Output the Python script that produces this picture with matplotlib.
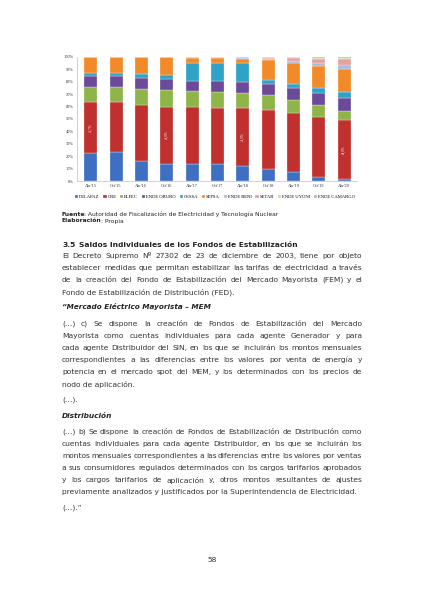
import numpy as np
import matplotlib
matplotlib.use("Agg")
import matplotlib.pyplot as plt

# datos del grafico (participacion %)
periodos = ["Abr'15", "Oct'15", "Abr'16", "Oct'16", "Abr'17", "Oct'17",
            "Abr'18", "Oct'18", "Abr'19", "Oct'19", "Abr'20"]
empresas = ["DELAPAZ", "CRE", "ELFEC", "ENDE ORURO", "CESSA", "SEPSA",
            "ENDE BENI", "SETAR", "ENDE UYUNI", "ENDE CAMARGO"]
delapaz = [22.3, 23.0, 16.5, 14.0, 13.5, 13.5, 12.5, 10.0, 7.0, 3.5, 1.5]
cre = [41.7, 41.0, 44.5, 46.0, 46.0, 45.5, 46.0, 47.5, 48.0, 48.5, 48.0]
elfec = [12.0, 12.0, 13.5, 13.0, 13.0, 13.0, 12.5, 11.5, 10.0, 9.0, 7.0]
oruro = [8.7, 8.5, 8.5, 9.0, 8.5, 9.0, 9.0, 9.0, 10.0, 10.0, 10.5]
cessa = [2.7, 3.0, 3.5, 3.5, 14.5, 14.5, 15.0, 3.5, 3.5, 4.0, 4.5]
sepsa = [12.6, 12.5, 13.5, 14.5, 4.0, 3.5, 3.5, 16.0, 17.0, 18.0, 19.0]
beni = [0, 0, 0, 0, 0.5, 0.6, 1.0, 1.0, 1.5, 2.0, 3.0]
setar = [0, 0, 0, 0, 0, 0.4, 0.5, 1.0, 2.0, 3.5, 5.0]
uyuni = [0, 0, 0, 0, 0, 0, 0, 0.5, 0.7, 1.0, 1.0]
camargo = [0, 0, 0, 0, 0, 0, 0, 0, 0.3, 0.5, 0.5]
con_etiqueta = [0, 3, 6, 10]

series = [delapaz, cre, elfec, oruro, cessa, sepsa, beni, setar, uyuni, camargo]
colores = ["#3f6fc1", "#c0302e", "#8fb548", "#6b4a99", "#2ea3c5", "#f28a2a",
           "#a6bddf", "#e6a0a0", "#c7dba4", "#b9a8d1"]

fig = plt.figure(figsize=(4.24, 6.0), dpi=100)

# --- grafico de barras apiladas ---
ax = fig.add_axes([76.7/424, 1-181/600, (357-76.7)/424, 124/600])
x = np.arange(len(periodos))
base = np.zeros(len(periodos))
for nombre, vals, c in zip(empresas, series, colores):
    v = np.array(vals)
    ax.bar(x, v, 0.51, bottom=base, color=c, label=nombre,
           edgecolor="white", linewidth=0.2)
    base = base + v

for i in con_etiqueta:
    ax.text(x[i], delapaz[i] + cre[i]/2, f"{cre[i]:.1f}%".replace(".", ","),
            rotation=90, ha="center", va="center", color="white",
            fontsize=2.3, family="Liberation Serif")

ax.set_xlim(-0.553, 10.51)
ax.set_ylim(0, 100)
ax.set_yticks(np.arange(0, 101, 10))
ax.set_yticklabels([f"{t}%" for t in range(0, 101, 10)])
ax.set_xticks(x)
ax.set_xticklabels(periodos)
ax.tick_params(length=0, labelsize=3.2, colors="#333333", pad=2)
for lab in ax.get_xticklabels() + ax.get_yticklabels():
    lab.set_family("Liberation Serif")
for s in ["top", "right"]:
    ax.spines[s].set_visible(False)
for s in ["left", "bottom"]:
    ax.spines[s].set_color("#bfbfbf")
    ax.spines[s].set_linewidth(0.5)

fig.legend(loc="center", bbox_to_anchor=(215/424, 1-197/600), ncol=10,
           frameon=False, handlelength=0.7, handleheight=0.7,
           handletextpad=0.2, columnspacing=0.8,
           prop={"family": "Liberation Serif", "size": 3.35})

# --- texto de la pagina ---
tx = fig.add_axes([0, 0, 1, 1])
tx.set_xlim(0, 424)
tx.set_ylim(600, 0)
tx.axis("off")
rend = fig.canvas.get_renderer()

X0, X1 = 62, 362
FS = 5.4
FAM = "DejaVu Sans"
col = "#333333"


def ancho(a):
    return a.get_window_extent(rend).width


def linea(texto, y, justificar=True, **kw):
    kw.setdefault("fontsize", FS)
    kw.setdefault("family", FAM)
    kw.setdefault("color", col)
    palabras = texto.split(" ")
    if not justificar or len(palabras) < 2:
        tx.text(X0, y, texto, va="center", ha="left", **kw)
        return
    arts = [tx.text(0, y, p, va="center", ha="left", **kw) for p in palabras]
    anchos = [ancho(a) for a in arts]
    hueco = (X1 - X0 - sum(anchos)) / (len(palabras) - 1)
    if hueco < 1.2:
        # linea muy larga: reducir un poco el cuerpo
        f = (X1 - X0 - 1.2*(len(palabras) - 1)) / sum(anchos)
        for a in arts:
            a.set_fontsize(kw["fontsize"]*f)
        anchos = [ancho(a) for a in arts]
        hueco = (X1 - X0 - sum(anchos)) / (len(palabras) - 1)
    pos = X0
    for a, w in zip(arts, anchos):
        a.set_x(pos)
        pos += w + hueco


def par_bold(xx, y, negrita, resto, fs):
    a = tx.text(xx, y, negrita, fontsize=fs, weight="bold", family=FAM,
                va="center", color="#222222")
    tx.text(xx + ancho(a), y, resto, fontsize=fs, family=FAM, va="center",
            color="#222222")


par_bold(61, 214, "Fuente", ": Autoridad de Fiscalización de Electricidad y Tecnología Nuclear", 4.35)
par_bold(61, 221, "Elaboración", ": Propia", 4.35)

tx.text(62, 245, "3.5", fontsize=5.4, weight="bold", family=FAM, va="center", color="#222222")
tx.text(79, 245, "Saldos Individuales de los Fondos de Estabilización", fontsize=5.4,
        weight="bold", family=FAM, va="center", color="#222222")

p1 = ["El Decreto Supremo Nº 27302 de 23 de diciembre de 2003, tiene por objeto",
      "establecer medidas que permitan estabilizar las tarifas de electricidad a través",
      "de la creación del Fondo de Estabilización del Mercado Mayorista (FEM) y el",
      "Fondo de Estabilización de Distribución (FED)."]
p2 = ["(…) c) Se dispone la creación de Fondos de Estabilización del Mercado",
      "Mayorista como cuentas individuales para cada agente Generador y para",
      "cada agente Distribuidor del SIN, en los que se incluirán los montos mensuales",
      "correspondientes a las diferencias entre los valores por venta de energía y",
      "potencia en el mercado spot del MEM, y los determinados con los precios de",
      "nodo de aplicación."]
p3 = ["(…) b) Se dispone la creación de Fondos de Estabilización de Distribución como",
      "cuentas individuales para cada agente Distribuidor, en los que se incluirán los",
      "montos mensuales correspondientes a las diferencias entre los valores por ventas",
      "a sus consumidores regulados determinados con los cargos tarifarios aprobados",
      "y los cargos tarifarios de aplicación y, otros montos resultantes de ajustes",
      "previamente analizados y justificados por la Superintendencia de Electricidad."]

for k, t in enumerate(p1):
    linea(t, 256 + 12*k, justificar=k < len(p1) - 1)
linea("“Mercado Eléctrico Mayorista – MEM", 306, justificar=False,
      weight="bold", style="italic", color="#222222", fontsize=5.2)
for k, t in enumerate(p2):
    linea(t, 324 + 12*k, justificar=k < len(p2) - 1)
linea("(…).", 400, justificar=False)
linea("Distribución", 416, justificar=False, weight="bold", style="italic",
      color="#222222", fontsize=5.3)
for k, t in enumerate(p3):
    linea(t, 432 + 12*k, justificar=k < len(p3) - 1)
linea("(…).”", 508, justificar=False)

tx.text(212, 560, "58", fontsize=5.4, family=FAM, ha="center", va="center", color=col)

fig.savefig("out.png", dpi=100)
